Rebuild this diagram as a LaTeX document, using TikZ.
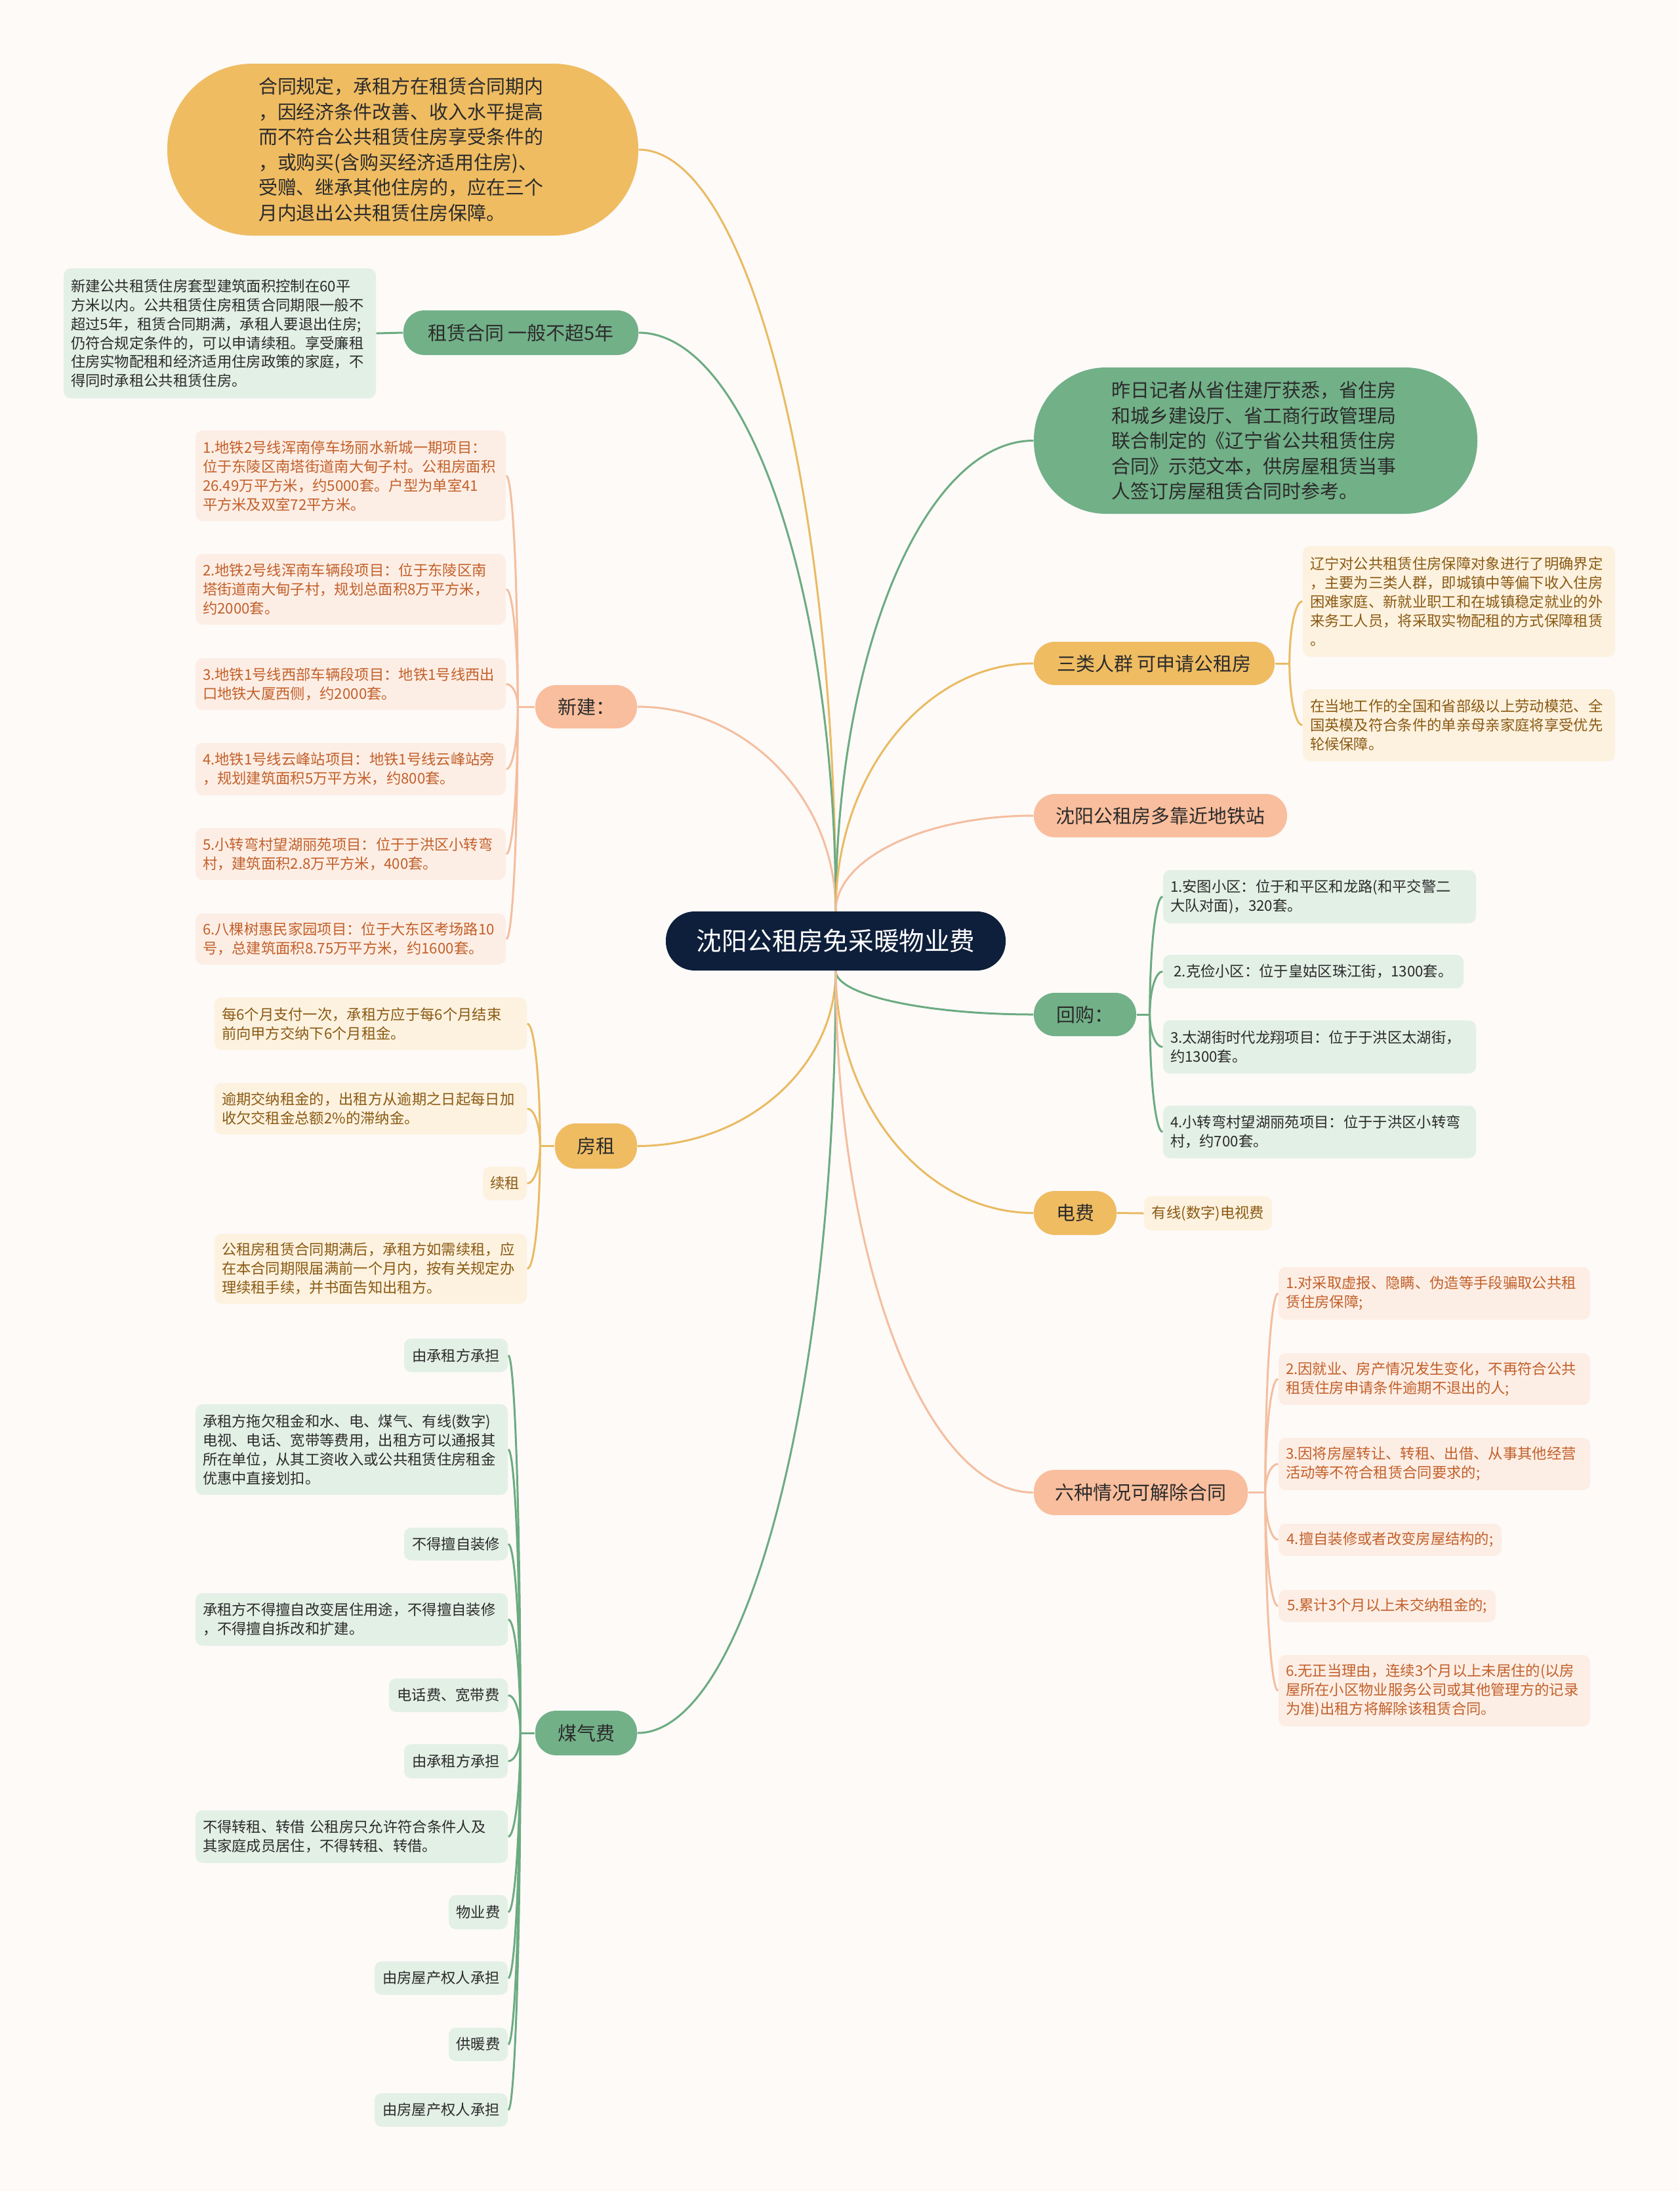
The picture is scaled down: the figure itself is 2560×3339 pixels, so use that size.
\documentclass[tikz,border=0pt]{standalone}
\usepackage{fontspec}
\newfontfamily\cjk{Noto Sans CJK SC}
\usetikzlibrary{calc,backgrounds}

\definecolor{paper}{HTML}{FDFAF8}
\definecolor{navy}{HTML}{0E1F3B}
\definecolor{gold}{HTML}{EFBC62}
\definecolor{sage}{HTML}{72B088}
\definecolor{peach}{HTML}{F9BE9D}
\definecolor{leafgreen}{HTML}{E3F0E6}
\definecolor{leafcream}{HTML}{FDF2DF}
\definecolor{leafpeach}{HTML}{FDEEE5}
\definecolor{ink}{HTML}{2B2B2B}
\definecolor{inkbrown}{HTML}{8A5A14}
\definecolor{inkorange}{HTML}{C2602A}
\definecolor{linegold}{HTML}{E9BB62}
\definecolor{linegreen}{HTML}{6CAB81}
\definecolor{linepeach}{HTML}{F4BE9F}

\begin{document}
\begin{tikzpicture}[x=0.1mm,y=-0.1mm,
        pill/.style={rounded corners=3.2mm,inner sep=0pt,text=ink,
                font=\cjk\fontsize{8.25}{10}\selectfont},
        bigbox/.style={inner sep=0pt,text=ink,align=left,text width=44mm,
                font=\cjk\fontsize{8.25}{10.95}\selectfont},
        leaf/.style={rounded corners=1.1mm,inner xsep=1.1mm,inner ysep=0pt,align=left,
                font=\cjk\fontsize{6.35}{8.25}\selectfont},
        gleaf/.style={leaf,fill=leafgreen,text=ink},
        oleaf/.style={leaf,fill=leafcream,text=inkbrown},
        pleaf/.style={leaf,fill=leafpeach,text=inkorange},
        gline/.style={draw=linegreen,line width=0.3mm},
        oline/.style={draw=linegold,line width=0.3mm},
        pline/.style={draw=linepeach,line width=0.3mm}]
        \useasboundingbox (0,0) rectangle (2560,3339);

        \node[fill=navy,rounded corners=4.4mm,minimum width=51.8mm,minimum height=9mm,inner sep=0pt,
                text=white,font=\cjk\fontsize{11}{13}\selectfont] (root) at (1274,1434) {沈阳公租房免采暖物业费};

        \node[bigbox,fill=gold,minimum width=71.8mm,minimum height=26.2mm,rounded corners=13mm] (hetong) at (614,228)
                {合同规定，承租方在租赁合同期内\\，因经济条件改善、收入水平提高\\而不符合公共租赁住房享受条件的\\，或购买(含购买经济适用住房)、\\受赠、继承其他住房的，应在三个\\月内退出公共租赁住房保障。};
        \node[pill,fill=sage,minimum width=35.8mm,minimum height=6.8mm] (zulin) at (794,507) {租赁合同 一般不超5年};
        \node[gleaf,text width=45.4mm,minimum height=19.8mm] (zulinx) at (335,508)
                {新建公共租赁住房套型建筑面积控制在60平\\方米以内。公共租赁住房租赁合同期限一般不\\超过5年，租赁合同期满，承租人要退出住房;\\仍符合规定条件的，可以申请续租。享受廉租\\住房实物配租和经济适用住房政策的家庭，不\\得同时承租公共租赁住房。};

        \node[pill,fill=peach,minimum width=15.5mm,minimum height=6.6mm] (xinjian) at (893.5,1077) {新建：};
        \node[pleaf,text width=45.1mm,minimum height=13.8mm] (xj1) at (534.5,725)
                {1.地铁2号线浑南停车场丽水新城一期项目：\\位于东陵区南塔街道南大甸子村。公租房面积\\26.49万平方米，约5000套。户型为单室41\\平方米及双室72平方米。};
        \node[pleaf,text width=45.1mm,minimum height=10.8mm] (xj2) at (534.5,898)
                {2.地铁2号线浑南车辆段项目：位于东陵区南\\塔街道南大甸子村，规划总面积8万平方米，\\约2000套。};
        \node[pleaf,text width=45.1mm,minimum height=7.9mm] (xj3) at (534.5,1042.5)
                {3.地铁1号线西部车辆段项目：地铁1号线西出\\口地铁大厦西侧，约2000套。};
        \node[pleaf,text width=45.1mm,minimum height=8mm] (xj4) at (534.5,1172)
                {4.地铁1号线云峰站项目：地铁1号线云峰站旁\\，规划建筑面积5万平方米，约800套。};
        \node[pleaf,text width=45.1mm,minimum height=7.9mm] (xj5) at (534.5,1301.5)
                {5.小转弯村望湖丽苑项目：位于于洪区小转弯\\村，建筑面积2.8万平方米，400套。};
        \node[pleaf,text width=45.1mm,minimum height=7.8mm] (xj6) at (534.5,1431)
                {6.八棵树惠民家园项目：位于大东区考场路10\\号，总建筑面积8.75万平方米，约1600套。};

        \node[pill,fill=gold,minimum width=12.5mm,minimum height=6.9mm] (fangzu) at (908.5,1746.5) {房租};
        \node[oleaf,text width=45.4mm,minimum height=8mm] (fz1) at (565,1560)
                {每6个月支付一次，承租方应于每6个月结束\\前向甲方交纳下6个月租金。};
        \node[oleaf,text width=45.4mm,minimum height=7.9mm] (fz2) at (565,1689.5)
                {逾期交纳租金的，出租方从逾期之日起每日加\\收欠交租金总额2\%的滞纳金。};
        \node[oleaf,minimum width=6.7mm,minimum height=5.1mm] (fz3) at (769.5,1803.5) {续租};
        \node[oleaf,text width=45.4mm,minimum height=10.7mm] (fz4) at (565,1933.5)
                {公租房租赁合同期满后，承租方如需续租，应\\在本合同期限届满前一个月内，按有关规定办\\理续租手续，并书面告知出租方。};

        \node[pill,fill=sage,minimum width=15.5mm,minimum height=6.8mm] (meiqi) at (893.5,2641) {煤气费};
        \node[gleaf,minimum width=15.8mm,minimum height=5.1mm] (mq1) at (695,2065.5) {由承租方承担};
        \node[gleaf,text width=45.4mm,minimum height=13.8mm] (mq2) at (536,2209)
                {承租方拖欠租金和水、电、煤气、有线(数字)\\电视、电话、宽带等费用，出租方可以通报其\\所在单位，从其工资收入或公共租赁住房租金\\优惠中直接划扣。};
        \node[gleaf,minimum width=15.8mm,minimum height=5mm] (mq3) at (695,2353) {不得擅自装修};
        \node[gleaf,text width=45.4mm,minimum height=8mm] (mq4) at (536,2468)
                {承租方不得擅自改变居住用途，不得擅自装修\\，不得擅自拆改和扩建。};
        \node[gleaf,minimum width=18.1mm,minimum height=5.1mm] (mq5) at (683.5,2583.5) {电话费、宽带费};
        \node[gleaf,minimum width=15.8mm,minimum height=5.2mm] (mq6) at (695,2684) {由承租方承担};
        \node[gleaf,text width=45.4mm,minimum height=8mm] (mq7) at (536,2799)
                {不得转租、转借 公租房只允许符合条件人及\\其家庭成员居住，不得转租、转借。};
        \node[gleaf,minimum width=9mm,minimum height=5.2mm] (mq8) at (729,2914) {物业费};
        \node[gleaf,minimum width=20.3mm,minimum height=5.1mm] (mq9) at (672.5,3014.5) {由房屋产权人承担};
        \node[gleaf,minimum width=9mm,minimum height=5.1mm] (mq10) at (729,3115.5) {供暖费};
        \node[gleaf,minimum width=20.3mm,minimum height=5.1mm] (mq11) at (672.5,3215.5) {由房屋产权人承担};

        \node[bigbox,fill=sage,minimum width=67.6mm,minimum height=22.3mm,rounded corners=11mm] (jizhe) at (1914,671.5)
                {昨日记者从省住建厅获悉，省住房\\和城乡建设厅、省工商行政管理局\\联合制定的《辽宁省公共租赁住房\\合同》示范文本，供房屋租赁当事\\人签订房屋租赁合同时参考。};

        \node[pill,fill=gold,minimum width=36.7mm,minimum height=6.6mm] (sanlei) at (1759.5,1011) {三类人群 可申请公租房};
        \node[oleaf,text width=45.4mm,minimum height=16.9mm] (sl1) at (2224,916.5)
                {辽宁对公共租赁住房保障对象进行了明确界定\\，主要为三类人群，即城镇中等偏下收入住房\\困难家庭、新就业职工和在城镇稳定就业的外\\来务工人员，将采取实物配租的方式保障租赁\\。};
        \node[oleaf,text width=45.4mm,minimum height=11mm] (sl2) at (2224,1105)
                {在当地工作的全国和省部级以上劳动模范、全\\国英模及符合条件的单亲母亲家庭将享受优先\\轮候保障。};

        \node[pill,fill=peach,minimum width=38.6mm,minimum height=6.6mm] (ditie) at (1769,1243) {沈阳公租房多靠近地铁站};

        \node[pill,fill=sage,minimum width=15.6mm,minimum height=6.6mm] (huigou) at (1654,1546) {回购：};
        \node[gleaf,text width=45.5mm,minimum height=8.1mm] (hg1) at (2011.5,1366.5)
                {1.安图小区：位于和平区和龙路(和平交警二\\大队对面)，320套。};
        \node[gleaf,minimum width=45.8mm,minimum height=5.1mm] (hg2) at (2002,1480.5)
                {2.克俭小区：位于皇姑区珠江街，1300套。};
        \node[gleaf,text width=45.5mm,minimum height=8.1mm] (hg3) at (2011.5,1595.5)
                {3.太湖街时代龙翔项目：位于于洪区太湖街，\\约1300套。};
        \node[gleaf,text width=45.5mm,minimum height=8mm] (hg4) at (2011.5,1725)
                {4.小转弯村望湖丽苑项目：位于于洪区小转弯\\村，约700套。};

        \node[pill,fill=gold,minimum width=12.6mm,minimum height=6.7mm] (dianfei) at (1639,1848.5) {电费};
        \node[oleaf,minimum width=19.5mm,minimum height=5.2mm] (df1) at (1841.5,1849) {有线(数字)电视费};

        \node[pill,fill=peach,minimum width=32.6mm,minimum height=6.9mm] (liuzhong) at (1739,2274.5) {六种情况可解除合同};
        \node[pleaf,text width=45.3mm,minimum height=8mm] (lz1) at (2186.5,1971)
                {1.对采取虚报、隐瞒、伪造等手段骗取公共租\\赁住房保障;};
        \node[pleaf,text width=45.3mm,minimum height=7.9mm] (lz2) at (2186.5,2101.5)
                {2.因就业、房产情况发生变化，不再符合公共\\租赁住房申请条件逾期不退出的人;};
        \node[pleaf,text width=45.3mm,minimum height=8mm] (lz3) at (2186.5,2231)
                {3.因将房屋转让、转租、出借、从事其他经营\\活动等不符合租赁合同要求的;};
        \node[pleaf,minimum width=34mm,minimum height=4.9mm] (lz4) at (2119,2346.5) {4.擅自装修或者改变房屋结构的;};
        \node[pleaf,minimum width=33.1mm,minimum height=4.9mm] (lz5) at (2114.5,2447.5) {5.累计3个月以上未交纳租金的;};
        \node[pleaf,text width=45.3mm,minimum height=10.9mm] (lz6) at (2186.5,2576.5)
                {6.无正当理由，连续3个月以上未居住的(以房\\屋所在小区物业服务公司或其他管理方的记录\\为准)出租方将解除该租赁合同。};

        \coordinate (up) at (root.north);
        \coordinate (down) at (root.south);
        \coordinate (xjp) at ($(xinjian.west)+(-26,0)$);
        \coordinate (fzp) at ($(fangzu.west)+(-22,0)$);
        \coordinate (mqp) at ($(meiqi.west)+(-22,0)$);
        \coordinate (slp) at ($(sanlei.east)+(22,0)$);
        \coordinate (hgp) at ($(huigou.east)+(20,0)$);
        \coordinate (lzp) at ($(liuzhong.east)+(26,0)$);

        \begin{pgfonlayer}{background}
                \fill[paper] (0,0) rectangle (2560,3339);

                \foreach \n in {hetong} \draw[oline] (up) .. controls ($(up)!.55!(up|-\n.east)$) and ($(\n.east)!.55!(up|-\n.east)$) .. (\n.east);
                \foreach \n in {zulin} \draw[gline] (up) .. controls ($(up)!.55!(up|-\n.east)$) and ($(\n.east)!.55!(up|-\n.east)$) .. (\n.east);
                \foreach \n in {xinjian} \draw[pline] (up) .. controls ($(up)!.55!(up|-\n.east)$) and ($(\n.east)!.55!(up|-\n.east)$) .. (\n.east);
                \foreach \n in {fangzu} \draw[oline] (down) .. controls ($(down)!.55!(down|-\n.east)$) and ($(\n.east)!.55!(down|-\n.east)$) .. (\n.east);
                \foreach \n in {meiqi} \draw[gline] (down) .. controls ($(down)!.55!(down|-\n.east)$) and ($(\n.east)!.55!(down|-\n.east)$) .. (\n.east);
                \foreach \n in {jizhe} \draw[gline] (up) .. controls ($(up)!.55!(up|-\n.west)$) and ($(\n.west)!.55!(up|-\n.west)$) .. (\n.west);
                \foreach \n in {sanlei} \draw[oline] (up) .. controls ($(up)!.55!(up|-\n.west)$) and ($(\n.west)!.55!(up|-\n.west)$) .. (\n.west);
                \foreach \n in {ditie} \draw[pline] (up) .. controls ($(up)!.55!(up|-\n.west)$) and ($(\n.west)!.55!(up|-\n.west)$) .. (\n.west);
                \foreach \n in {huigou} \draw[gline] (down) .. controls ($(down)!.55!(down|-\n.west)$) and ($(\n.west)!.55!(down|-\n.west)$) .. (\n.west);
                \foreach \n in {dianfei} \draw[oline] (down) .. controls ($(down)!.55!(down|-\n.west)$) and ($(\n.west)!.55!(down|-\n.west)$) .. (\n.west);
                \foreach \n in {liuzhong} \draw[pline] (down) .. controls ($(down)!.55!(down|-\n.west)$) and ($(\n.west)!.55!(down|-\n.west)$) .. (\n.west);

                \draw[gline] (zulin.west) -- (zulinx.east);
                \draw[oline] (dianfei.east) -- (df1.west);

                \draw[pline] (xinjian.west) -- (xjp);
                \foreach \i in {1,...,6}
                        \draw[pline] (xjp) .. controls ($(xjp)!.55!(xjp|-xj\i.east)$) and ($(xj\i.east)!.55!(xjp|-xj\i.east)$) .. (xj\i.east);
                \draw[oline] (fangzu.west) -- (fzp);
                \foreach \i in {1,...,4}
                        \draw[oline] (fzp) .. controls ($(fzp)!.55!(fzp|-fz\i.east)$) and ($(fz\i.east)!.55!(fzp|-fz\i.east)$) .. (fz\i.east);
                \draw[gline] (meiqi.west) -- (mqp);
                \foreach \i in {1,...,11}
                        \draw[gline] (mqp) .. controls ($(mqp)!.55!(mqp|-mq\i.east)$) and ($(mq\i.east)!.55!(mqp|-mq\i.east)$) .. (mq\i.east);
                \draw[oline] (sanlei.east) -- (slp);
                \foreach \i in {1,2}
                        \draw[oline] (slp) .. controls ($(slp)!.55!(slp|-sl\i.west)$) and ($(sl\i.west)!.55!(slp|-sl\i.west)$) .. (sl\i.west);
                \draw[gline] (huigou.east) -- (hgp);
                \foreach \i in {1,...,4}
                        \draw[gline] (hgp) .. controls ($(hgp)!.55!(hgp|-hg\i.west)$) and ($(hg\i.west)!.55!(hgp|-hg\i.west)$) .. (hg\i.west);
                \draw[pline] (liuzhong.east) -- (lzp);
                \foreach \i in {1,...,6}
                        \draw[pline] (lzp) .. controls ($(lzp)!.55!(lzp|-lz\i.west)$) and ($(lz\i.west)!.55!(lzp|-lz\i.west)$) .. (lz\i.west);
        \end{pgfonlayer}
\end{tikzpicture}
\end{document}
